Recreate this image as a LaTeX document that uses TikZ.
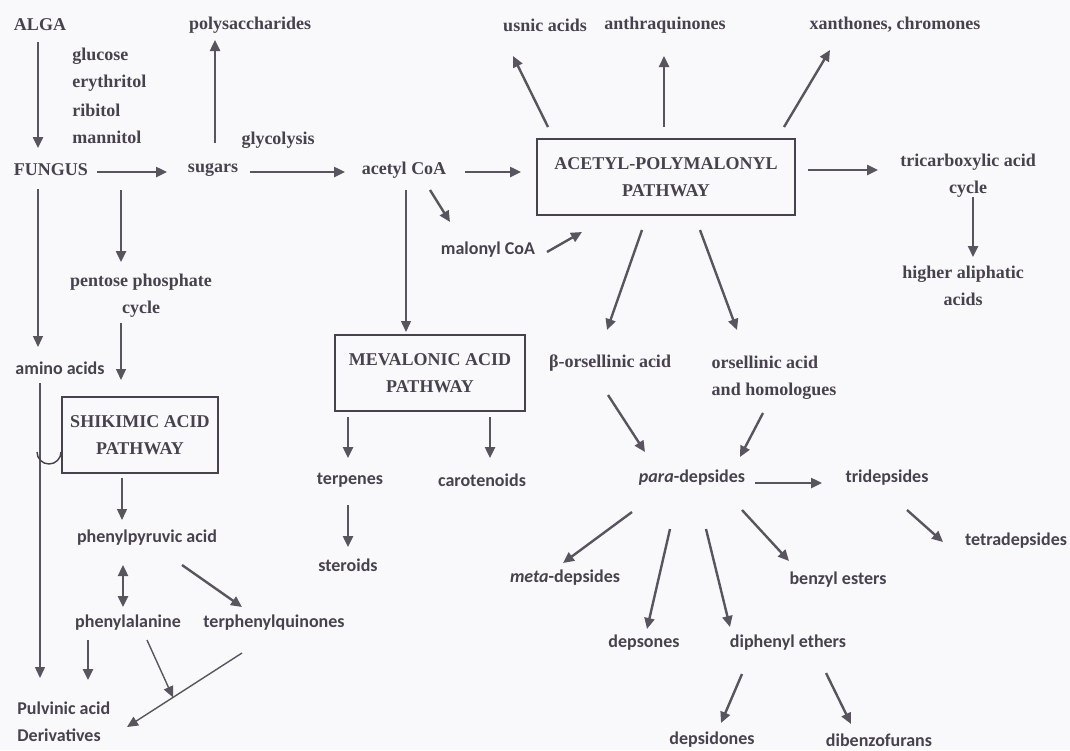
\documentclass[tikz,border=0pt]{standalone}
\usepackage{fontspec}
\setmainfont{Liberation Serif}
\newfontfamily\gillfont{Carlito}
\usetikzlibrary{arrows.meta}
\definecolor{ink}{HTML}{47424D}
\definecolor{paper}{HTML}{F9F9FB}

\begin{document}
\begin{tikzpicture}[x=0.5pt, y=-0.5pt,
  >={Triangle[length=5.5pt,width=5pt]},
  txt/.style={text=ink, font=\fontsize{9}{13.5}\selectfont\bfseries, inner sep=1pt},
  gilltxt/.style={txt, font=\gillfont\fontsize{9}{13.5}\selectfont\bfseries},
  pathbox/.style={txt, draw=ink, line width=1pt, align=center, minimum height=38pt},
  arr/.style={draw=ink!90, line width=1.2pt, ->},
  darr/.style={arr, <->},
  thinarr/.style={arr, line width=0.7pt}]

  % Background
  \fill[paper] (0,0) rectangle (1070,750);

  % Alga, fungus and the sugars
  \node[txt] (alga) at (40,25) {ALGA};
  \foreach \s [count=\i] in {glucose,erythritol,ribitol,mannitol} {
    \node[txt, anchor=west] (sug\i) at (70,29+27*\i) {\s};
  }
  \node[txt] (fungus) at (51,170) {FUNGUS};
  \node[txt] (sugars) at (213,170) {sugars};
  \node[txt] (poly) at (250,25) {polysaccharides};
  \node[txt] (glyc) at (278,140) {glycolysis};
  \node[txt] (acetyl) at (404,170) {acetyl CoA};
  \node[gilltxt] (malonyl) at (488,250) {malonyl CoA};

  % Acetyl-polymalonyl pathway
  \node[pathbox, minimum width=129pt] (acpoly) at (666,177) {ACETYL-POLYMALONYL\\PATHWAY};
  \node[txt] (usnic) at (545,25) {usnic acids};
  \node[txt] (anthra) at (665,25) {anthraquinones};
  \node[txt] (xanth) at (895,25) {xanthones, chromones};
  \node[txt, align=center] (tca) at (968,176) {tricarboxylic acid\\cycle};
  \node[txt, align=center] (higher) at (963,286) {higher aliphatic\\acids};
  \node[txt] (beta) at (610,363) {β-orsellinic acid};
  \node[txt, align=left] (orsell) at (774,378) {orsellinic acid\\and homologues};

  % Mevalonic acid pathway
  \node[pathbox, minimum width=95pt] (meva) at (430,373) {MEVALONIC ACID\\PATHWAY};
  \node[gilltxt] (terp) at (350,480) {terpenes};
  \node[gilltxt] (carot) at (482,480) {carotenoids};
  \node[gilltxt] (ster) at (348,565) {steroids};

  % Shikimic acid pathway
  \node[txt, align=center] (pentose) at (141,296) {pentose phosphate\\cycle};
  \node[gilltxt] (amino) at (60,368) {amino acids};
  \node[pathbox, minimum width=78pt] (shik) at (140,435) {SHIKIMIC ACID\\PATHWAY};
  \node[gilltxt] (ppa) at (147,538) {phenylpyruvic acid};
  \node[gilltxt] (phe) at (128,623) {phenylalanine};
  \node[gilltxt] (terph) at (274,623) {terphenylquinones};
  \node[gilltxt, align=left, anchor=west] (pulv) at (15,722) {Pulvinic acid\\Derivatives};

  % Depsides
  \node[gilltxt] (para) at (692,478) {\textit{para}-depsides};
  \node[gilltxt] (tri) at (887,478) {tridepsides};
  \node[gilltxt] (tetra) at (1016,541) {tetradepsides};
  \node[gilltxt] (meta) at (565,578) {\textit{meta}-depsides};
  \node[gilltxt] (benzyl) at (838,580) {benzyl esters};
  \node[gilltxt] (depsones) at (644,643) {depsones};
  \node[gilltxt] (diph) at (788,643) {diphenyl ethers};
  \node[gilltxt] (depsid) at (712,740) {depsidones};
  \node[gilltxt] (dibenzo) at (879,740) {dibenzofurans};

  % Top row arrows
  \draw[arr] ([shift={(-2,17)}]alga.center) -- ([shift={(-13,-22)}]fungus.center);
  \draw[arr] ([shift={(46,2)}]fungus.center) -- ([shift={(-46,2)}]sugars.center);
  \draw[arr] ([shift={(2,-27)}]sugars.center) -- ([shift={(-35,15)}]poly.center);
  \draw[arr] ([shift={(37,2)}]sugars.center) -- ([shift={(-59,2)}]acetyl.center);
  \draw[arr] ([shift={(61,2)}]acetyl.center) -- ([shift={(-15,-5)}]acpoly.west);
  \draw[arr] ([shift={(26,20)}]acetyl.center) -- ([shift={(-38,-28)}]malonyl.center);
  \draw[arr] ([shift={(59,2)}]malonyl.center) -- ([shift={(-84,55)}]acpoly.center);
  \draw[thinarr] ([shift={(2,20)}]acetyl.center) -- ([shift={(-24,-2)}]meva.north);

  % Out of the acetyl-polymalonyl pathway
  \draw[arr] ([shift={(-118,-50)}]acpoly.center) -- ([shift={(-32,31)}]usnic.center);
  \draw[arr] ([shift={(-2,-50)}]acpoly.center) -- ([shift={(-1,31)}]anthra.center);
  \draw[arr] ([shift={(118,-50)}]acpoly.center) -- ([shift={(-65,25)}]xanth.center);
  \draw[arr] ([shift={(12,-7)}]acpoly.east) -- ([shift={(-90,-6)}]tca.center);
  \draw[arr] ([shift={(5,21)}]tca.center) -- ([shift={(10,-29)}]higher.center);
  \draw[arr] ([shift={(-24,53)}]acpoly.center) -- ([shift={(-3,-33)}]beta.center);
  \draw[arr] ([shift={(34,53)}]acpoly.center) -- ([shift={(-37,-48)}]orsell.center);

  % Mevalonic branch
  \draw[arr] ([shift={(-82,44)}]meva.center) -- ([shift={(-2,-22)}]terp.center);
  \draw[arr] ([shift={(60,44)}]meva.center) -- ([shift={(8,-22)}]carot.center);
  \draw[arr] ([shift={(-2,25)}]terp.center) -- ([shift={(0,-18)}]ster.center);

  % Shikimic branch
  \draw[thinarr] ([shift={(-13,19)}]fungus.center) -- ([shift={(-22,-21)}]amino.center);
  \draw[arr] ([shift={(70,20)}]fungus.center) -- ([shift={(-20,-34)}]pentose.center);
  \draw[thinarr] ([shift={(-20,27)}]pentose.center) -- ([shift={(-19,-55)}]shik.center);
  \draw[thinarr] ([shift={(-20,15)}]amino.center) -- ([shift={(25,-44)}]pulv.west);
  \draw[draw=ink, line width=0.7pt] ([shift={(-24,17)}]shik.west) arc[start angle=180, end angle=0, radius=12];
  \draw[thinarr] ([shift={(-18,43)}]shik.center) -- ([shift={(-25,-18)}]ppa.center);
  \draw[darr] ([shift={(-24,27)}]ppa.center) -- ([shift={(-5,-16)}]phe.center);
  \draw[arr] ([shift={(35,27)}]ppa.center) -- ([shift={(-32,-16)}]terph.center);
  \draw[arr] ([shift={(-40,17)}]phe.center) -- ([shift={(73,-42)}]pulv.west);
  \draw[thinarr] ([shift={(-32,30)}]terph.center) -- coordinate[pos=0.6] (meet) ([shift={(112,5)}]pulv.west);
  \draw[thinarr] ([shift={(19,17)}]phe.center) -- (meet);

  % Depside branch
  \draw[arr] ([shift={(-2,32)}]beta.center) -- ([shift={(-47,-26)}]para.center);
  \draw[arr] ([shift={(-11,35)}]orsell.center) -- ([shift={(48,-21)}]para.center);
  \draw[arr] ([shift={(63,5)}]para.center) -- ([shift={(-65,5)}]tri.center);
  \draw[arr] ([shift={(20,32)}]tri.center) -- ([shift={(-73,1)}]tetra.center);
  \draw[arr] ([shift={(-60,34)}]para.center) -- ([shift={(-2,-15)}]meta.center);
  \draw[arr] ([shift={(-22,51)}]para.center) -- ([shift={(3,-14)}]depsones.center);
  \draw[arr] ([shift={(14,51)}]para.center) -- ([shift={(-58,-16)}]diph.center);
  \draw[arr] ([shift={(50,32)}]para.center) -- ([shift={(-49,-19)}]benzyl.center);
  \draw[arr] ([shift={(-46,31)}]diph.center) -- ([shift={(9,-17)}]depsid.center);
  \draw[arr] ([shift={(38,30)}]diph.center) -- ([shift={(-28,-16)}]dibenzo.center);
\end{tikzpicture}
\end{document}
